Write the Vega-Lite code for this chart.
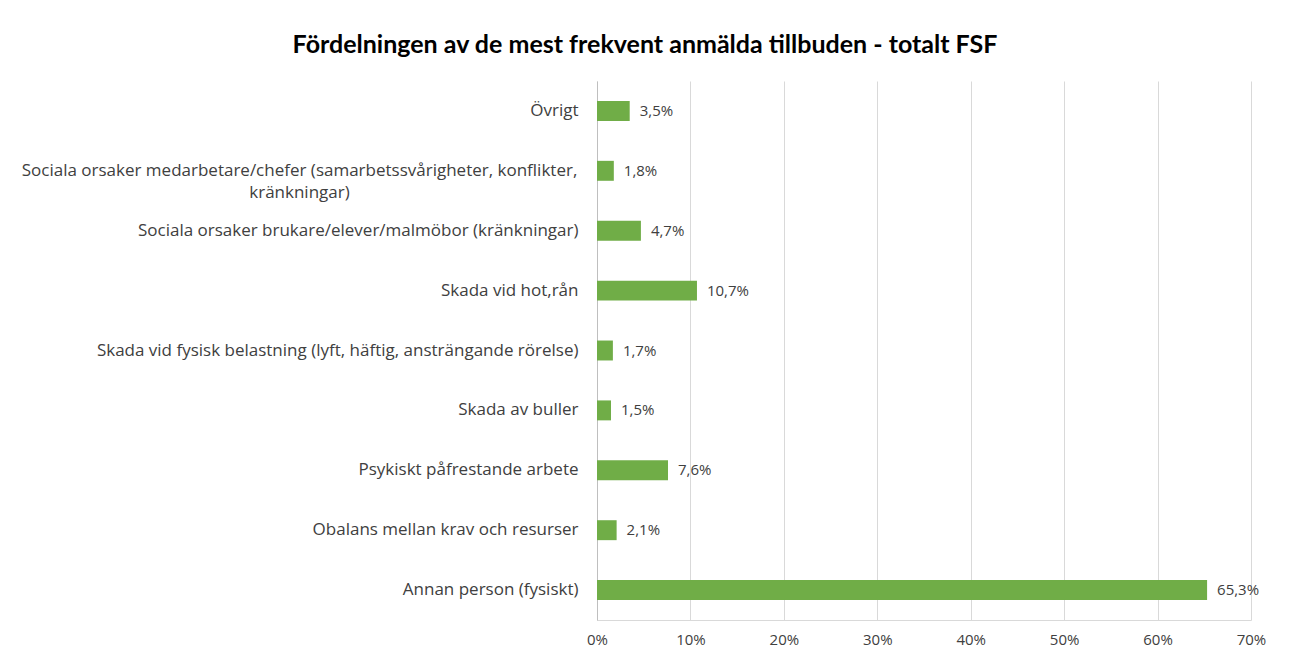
{
  "$schema": "https://vega.github.io/schema/vega-lite/v6.json",
  "autosize": {"type": "none"},
  "width": 654,
  "height": 539,
  "padding": {"left": 597, "top": 81, "right": 39, "bottom": 44},
  "background": "white",
  "config": {
    "locale": {"number": {"decimal": ",", "thousands": " ", "grouping": [3], "currency": ["", " kr"]}},
    "view": {"stroke": null},
    "font": "Open Sans"
  },
  "title": {
    "text": "Fördelningen av de mest frekvent anmälda tillbuden - totalt FSF",
    "font": "Lato",
    "fontSize": 25,
    "fontWeight": "bold",
    "color": "#000000",
    "anchor": "middle",
    "dx": -279,
    "offset": 23
  },
  "data": {
    "values": [
      {"kategori": "Övrigt", "andel": 0.035},
      {"kategori": "Sociala orsaker medarbetare/chefer (samarbetssvårigheter, konflikter, kränkningar)", "andel": 0.018},
      {"kategori": "Sociala orsaker brukare/elever/malmöbor (kränkningar)", "andel": 0.047},
      {"kategori": "Skada vid hot,rån", "andel": 0.107},
      {"kategori": "Skada vid fysisk belastning (lyft, häftig, ansträngande rörelse)", "andel": 0.017},
      {"kategori": "Skada av buller", "andel": 0.015},
      {"kategori": "Psykiskt påfrestande arbete", "andel": 0.076},
      {"kategori": "Obalans mellan krav och resurser", "andel": 0.021},
      {"kategori": "Annan person (fysiskt)", "andel": 0.653}
    ]
  },
  "encoding": {
    "y": {
      "field": "kategori",
      "type": "nominal",
      "sort": null,
      "title": null,
      "scale": {"paddingInner": 0.667, "paddingOuter": 0.333},
      "axis": {
        "ticks": false,
        "domain": true,
        "domainColor": "#bfbfbf",
        "domainWidth": 1,
        "labelFont": "Open Sans",
        "labelFontSize": 17,
        "labelColor": "#404040",
        "labelLimit": 700,
        "labelLineHeight": 22,
        "labelExpr": "datum.value == 'Sociala orsaker medarbetare/chefer (samarbetssvårigheter, konflikter, kränkningar)' ? ['Sociala orsaker medarbetare/chefer (samarbetssvårigheter, konflikter,', 'kränkningar)'] : datum.value",
        "labelAlign": {"condition": {"test": "datum.value == 'Sociala orsaker medarbetare/chefer (samarbetssvårigheter, konflikter, kränkningar)'", "value": "center"}, "value": "right"},
        "labelPadding": {"condition": {"test": "datum.value == 'Sociala orsaker medarbetare/chefer (samarbetssvårigheter, konflikter, kränkningar)'", "value": 298}, "value": 19}
      }
    },
    "x": {
      "field": "andel",
      "type": "quantitative",
      "title": null,
      "scale": {"domain": [0, 0.7], "nice": false},
      "axis": {
        "format": ".0%",
        "values": [0, 0.1, 0.2, 0.3, 0.4, 0.5, 0.6, 0.7],
        "ticks": false,
        "domain": true,
        "domainColor": "#d9d9d9",
        "grid": true,
        "gridColor": "#d9d9d9",
        "gridWidth": 1,
        "labelFont": "Open Sans",
        "labelFontSize": 15,
        "labelColor": "#404040",
        "labelPadding": 12,
        "labelFlush": false
      }
    }
  },
  "layer": [
    {"mark": {"type": "bar", "color": "#70ad47"}},
    {
      "mark": {"type": "text", "align": "left", "baseline": "middle", "dx": 10, "font": "Open Sans", "fontSize": 15, "color": "#404040"},
      "encoding": {"text": {"field": "andel", "type": "quantitative", "format": ".1%"}}
    }
  ]
}
